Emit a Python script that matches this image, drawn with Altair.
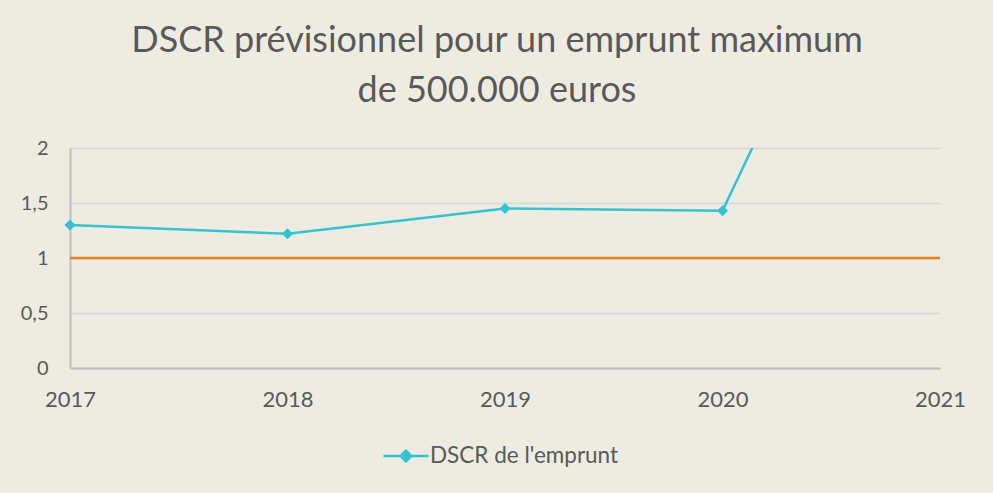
import altair as alt
import pandas as pd

annees = [2017, 2018, 2019, 2020, 2021]
dscr = [1.30, 1.22, 1.45, 1.43, 5.60]
seuil_annees = [2017, 2021]
seuil = [1, 1]
serie = "DSCR de l'emprunt"

df = pd.DataFrame({"annee": annees, "dscr": dscr, "serie": [serie] * len(annees)})
df_seuil = pd.DataFrame({"annee": seuil_annees, "seuil": seuil})

CYAN = "#2EC6D3"
ORANGE = "#F07F09"
TXT = "#595959"
BG = "#EEECE1"

x_scale = alt.Scale(domain=[2017, 2021], nice=False, zero=False)
y_scale = alt.Scale(domain=[0, 2], nice=False)

x_axis = alt.Axis(
    title=None, values=annees, format="d", ticks=False, grid=False,
    domainColor="#BFBFBF", domainWidth=2, labelFontSize=22, labelColor=TXT,
    labelFont="Lato", labelPadding=21, labelFlush=False,
)
y_axis = alt.Axis(
    title=None, values=[0, 0.5, 1, 1.5, 2], ticks=False, grid=True,
    gridColor="#D9D9D9", gridWidth=2, domainColor="#BFBFBF", domainWidth=2,
    labelFontSize=20, labelColor=TXT, labelFont="Lato", labelPadding=22,
    labelExpr="replace(format(datum.value, '~g'), '.', ',')",
)

color = alt.Color(
    "serie:N",
    scale=alt.Scale(domain=[serie], range=[CYAN]),
    legend=alt.Legend(
        title=None, orient="none", legendX=312, legendY=284,
        symbolType="M-1,0L1,0M0,-0.24L0.24,0L0,0.24L-0.24,0Z",
        symbolSize=2025, symbolStrokeWidth=2.5, symbolFillColor=CYAN,
        symbolStrokeColor=CYAN, labelFontSize=22.5, labelFont="Lato",
        labelColor=TXT, labelOffset=0, labelLimit=0,
    ),
)

ligne = alt.Chart(df).mark_line(clip=True, strokeWidth=2.5).encode(
    x=alt.X("annee:Q", scale=x_scale, axis=x_axis),
    y=alt.Y("dscr:Q", scale=y_scale, axis=y_axis),
    color=color,
)
points = alt.Chart(df).transform_filter(
    alt.datum.dscr <= 2
).mark_point(
    shape="diamond", filled=True, size=121, opacity=1
).encode(
    x=alt.X("annee:Q", scale=x_scale),
    y=alt.Y("dscr:Q", scale=y_scale),
    color=color,
)
regle = alt.Chart(df_seuil).mark_line(color=ORANGE, strokeWidth=2.5).encode(
    x=alt.X("annee:Q", scale=x_scale),
    y=alt.Y("seuil:Q", scale=y_scale),
)

chart = (
    alt.layer(regle, ligne, points)
    .properties(
        width=870, height=220,
        autosize=alt.AutoSizeParams(type="none"),
        padding={"left": 70, "top": 148, "right": 53, "bottom": 125},
        background=BG,
        title=alt.TitleParams(
            text=["DSCR prévisionnel pour un emprunt maximum", "de 500.000 euros"],
            font="Lato", fontSize=36, fontWeight="normal", color=TXT,
            anchor="middle", dx=-8, offset=28, lineHeight=50,
        ),
    )
    .configure_view(stroke=None)
)

chart.save("out.html", embed_options={"renderer": "svg", "actions": False})
